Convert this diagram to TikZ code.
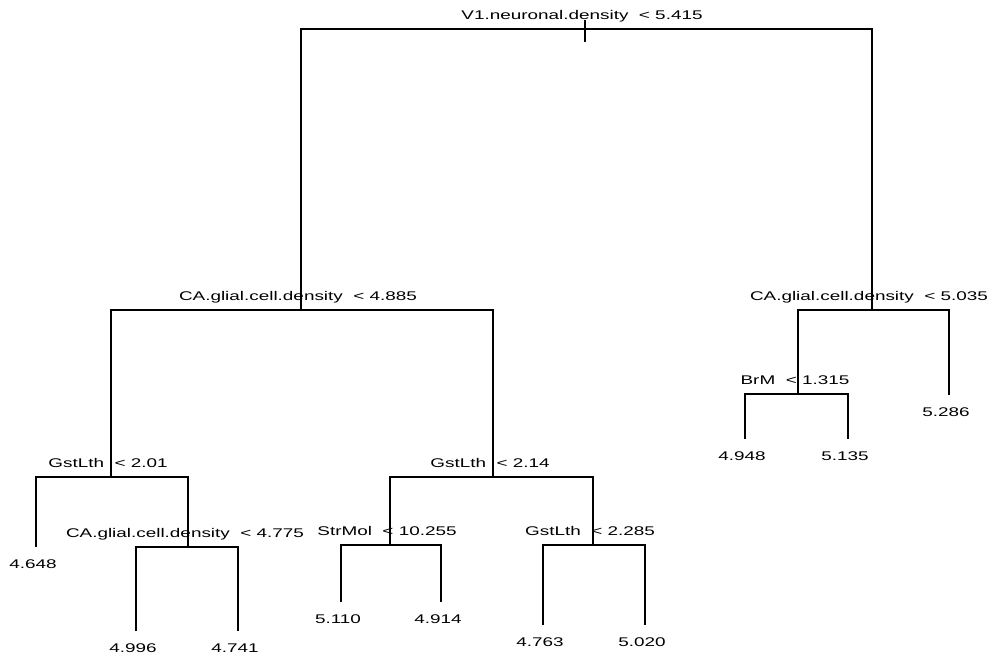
\documentclass[tikz,border=0pt]{standalone}
\usepackage{fontspec}
\newfontfamily\treefont[FakeStretch=1.5]{Liberation Sans}

\begin{document}
\begin{tikzpicture}[x=1pt,y=1pt,
  branch/.style={line width=1.5pt},
  splitlab/.style={font=\treefont\fontsize{12.6}{14}\selectfont,inner sep=0pt,
    text depth=0pt,label distance=9.5pt,xshift=-3pt},
  leaflab/.style={font=\treefont\fontsize{12.6}{14}\selectfont,inner sep=0pt,
    text height=9pt,label distance=12.5pt,xshift=-3pt}]
\useasboundingbox (0,0) rectangle (994,-657);
% splits
\coordinate[label={[splitlab,name=tR]above:V1.neuronal.density \ < 5.415}] (root) at (585,-29);
\coordinate[label={[splitlab,name=tA]above:CA.glial.cell.density \ < 4.885}] (nA) at (301,-310);
\coordinate[label={[splitlab,name=tB]above:CA.glial.cell.density \ < 5.035}] (nB) at (872,-310);
\coordinate[label={[splitlab,name=tC]above:GstLth \ < 2.01}] (nC) at (111,-477);
\coordinate[label={[splitlab,name=tD]above:GstLth \ < 2.14}] (nD) at (493,-477);
\coordinate[label={[splitlab,name=tE]above:CA.glial.cell.density \ < 4.775}] (nE) at (188,-547);
\coordinate[label={[splitlab,name=tF]above:StrMol \ < 10.255}] (nF) at (390,-545);
\coordinate[label={[splitlab,name=tG]above:GstLth \ < 2.285}] (nG) at (593,-545);
\coordinate[label={[splitlab,name=tH]above:BrM \ < 1.315}] (nH) at (798,-394);
% leaves
\coordinate[label={[leaflab,name=t1]below:4.648}] (l1) at (36,-547);
\coordinate[label={[leaflab,name=t2]below:4.996}] (l2) at (136,-631);
\coordinate[label={[leaflab,name=t3]below:4.741}] (l3) at (238,-631);
\coordinate[label={[leaflab,name=t4]below:5.110}] (l4) at (341,-602);
\coordinate[label={[leaflab,name=t5]below:4.914}] (l5) at (441,-602);
\coordinate[label={[leaflab,name=t6]below:4.763}] (l6) at (543,-625);
\coordinate[label={[leaflab,name=t7]below:5.020}] (l7) at (645,-625);
\coordinate[label={[leaflab,name=t8]below:4.948}] (l8) at (745,-439);
\coordinate[label={[leaflab,name=t9]below:5.135}] (l9) at (848,-439);
\coordinate[label={[leaflab,name=t10]below:5.286}] (l10) at (949,-395);
\coordinate (rtop) at (585,-20);
\coordinate (rbot) at (585,-42);
% branches
\draw[branch] (rtop) -- (rbot);
\draw[branch] (nA) |- (root) -| (nB);
\draw[branch] (nC) |- (nA) -| (nD);
\draw[branch] (l1) |- (nC) -| (nE);
\draw[branch] (l2) |- (nE) -| (l3);
\draw[branch] (nF) |- (nD) -| (nG);
\draw[branch] (l4) |- (nF) -| (l5);
\draw[branch] (l6) |- (nG) -| (l7);
\draw[branch] (nH) |- (nB) -| (l10);
\draw[branch] (l8) |- (nH) -| (l9);
\end{tikzpicture}
\end{document}
